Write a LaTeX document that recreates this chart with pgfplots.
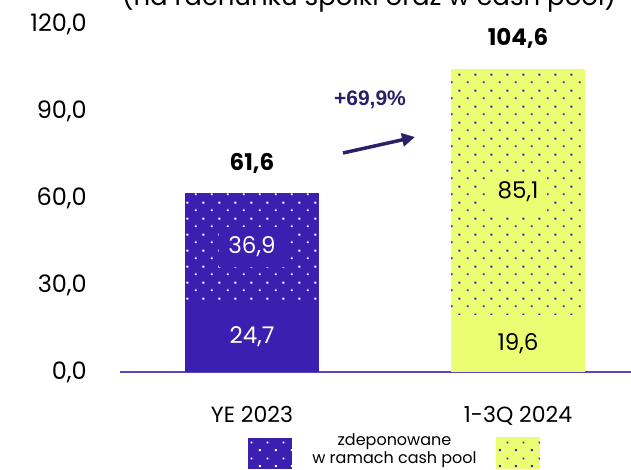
\documentclass[border=0pt]{standalone}
\usepackage{fontspec}
\setmainfont{Poppins}
\newfontfamily\arialfont{Liberation Sans}
\usepackage{pgfplots}
\pgfplotsset{compat=1.18}
\usetikzlibrary{patterns,arrows.meta}
\definecolor{bpurple}{HTML}{3B1FB0}
\definecolor{byellow}{HTML}{EBFD72}
\definecolor{navy}{HTML}{2B2068}
\definecolor{axpurple}{HTML}{5546C4}

\pgfdeclarepatternformonly{dotsA}{\pgfqpoint{0pt}{0pt}}{\pgfqpoint{16pt}{16pt}}{\pgfqpoint{16pt}{16pt}}{%
  \pgfpathrectangle{\pgfqpoint{3pt}{3pt}}{\pgfqpoint{2pt}{2pt}}%
  \pgfpathrectangle{\pgfqpoint{11pt}{11pt}}{\pgfqpoint{2pt}{2pt}}%
  \pgfusepath{fill}}

\pgfplotstableread{
x y
0 61.6
}\barAtot
\pgfplotstableread{
x y
0 24.7
}\barAbot
\pgfplotstableread{
x y
1 104.6
}\barBtot
\pgfplotstableread{
x y
1 19.6
}\barBbot
\pgfplotstableread{
x y l
0 43.15 36,9
0 12.35 24,7
}\labA
\pgfplotstableread{
x y l
1 62.15 85,1
1 9.8 19,6
}\labB
\pgfplotstableread{
x y l
0 61.6 61,6
1 104.6 104,6
}\labTot

\begin{document}
\begin{tikzpicture}[x=1pt,y=1pt]
\useasboundingbox (0,0) rectangle (631,469);
\clip (0,0) rectangle (631,469);
\begin{axis}[
  at={(120pt,97pt)}, anchor=south west,
  scale only axis, width=530pt, height=348pt,
  xmin=-0.496, xmax=1.496, ymin=0, ymax=120,
  axis x line*=bottom, axis y line*=left,
  y axis line style={draw=none},
  x axis line style={draw=axpurple, line width=1.5pt},
  major tick length=0pt,
  xtick={0,1}, xticklabels={YE 2023, 1-3Q 2024},
  ytick={0,30,60,90,120},
  /pgf/number format/assume math mode=true,
  yticklabel style={/pgf/number format/fixed, /pgf/number format/fixed zerofill,
    /pgf/number format/precision=1, /pgf/number format/use comma},
  yticklabel style={font=\fontsize{24}{28}\selectfont, anchor=east, inner sep=0pt, xshift=-33pt},
  xticklabel style={font=\fontsize{22}{26}\selectfont, anchor=base, inner sep=0pt, yshift=-50pt},
  clip=false,
]
\addplot[ybar, bar width=134pt, bar shift=0pt, fill=bpurple, draw=none,
  postaction={pattern=dotsA, pattern color=white}] table[x=x,y=y] {\barAtot};
\addplot[ybar, bar width=134pt, bar shift=0pt, fill=bpurple, draw=none] table[x=x,y=y] {\barAbot};
\addplot[ybar, bar width=134pt, bar shift=0pt, fill=byellow, draw=none,
  postaction={pattern=dotsA, pattern color=bpurple}] table[x=x,y=y] {\barBtot};
\addplot[ybar, bar width=134pt, bar shift=0pt, fill=byellow, draw=none] table[x=x,y=y] {\barBbot};
\addplot[draw=none, mark=none, nodes near coords, point meta=explicit symbolic,
  nodes near coords style={anchor=center, fill=bpurple, text=white, inner xsep=9pt, inner ysep=10pt,
  font=\fontsize{23}{26}\selectfont}] table[x=x,y=y,meta=l] {\labA};
\addplot[draw=none, mark=none, nodes near coords, point meta=explicit symbolic,
  nodes near coords style={anchor=center, fill=byellow, text=black, inner xsep=9pt, inner ysep=10pt,
  font=\fontsize{23}{26}\selectfont}] table[x=x,y=y,meta=l] {\labB};
\addplot[draw=none, mark=none, nodes near coords, point meta=explicit symbolic,
  nodes near coords style={anchor=base, text=black, yshift=23pt, inner sep=0pt,
  font=\fontsize{23}{26}\selectfont\bfseries}] table[x=x,y=y,meta=l] {\labTot};
\end{axis}
% title (cut off at top in reference)
\node[anchor=base, inner sep=0pt, font=\fontsize{26}{30}\selectfont] at (369,463) {(na rachunku spółki oraz w cash pool)};
% growth annotation
\draw[navy, line width=3.5pt, -{Triangle[length=13pt,width=13pt]}] (343,316) -- (415,332);
\node[navy, anchor=center, inner sep=0pt, font=\arialfont\bfseries\fontsize{21}{24}\selectfont] at (370,369) {+69,9\%};
% legend
\fill[bpurple] (248,0) rectangle (292,31);
\fill[pattern=dotsA, pattern color=white] (248,0) rectangle (292,31);
\fill[byellow] (496,0) rectangle (540,32);
\fill[pattern=dotsA, pattern color=bpurple] (496,0) rectangle (540,32);
\node[align=center, anchor=base, inner sep=0pt, font=\fontsize{16}{18}\selectfont] at (394.5,6) {zdeponowane\\w ramach cash pool};
\end{tikzpicture}
\end{document}
